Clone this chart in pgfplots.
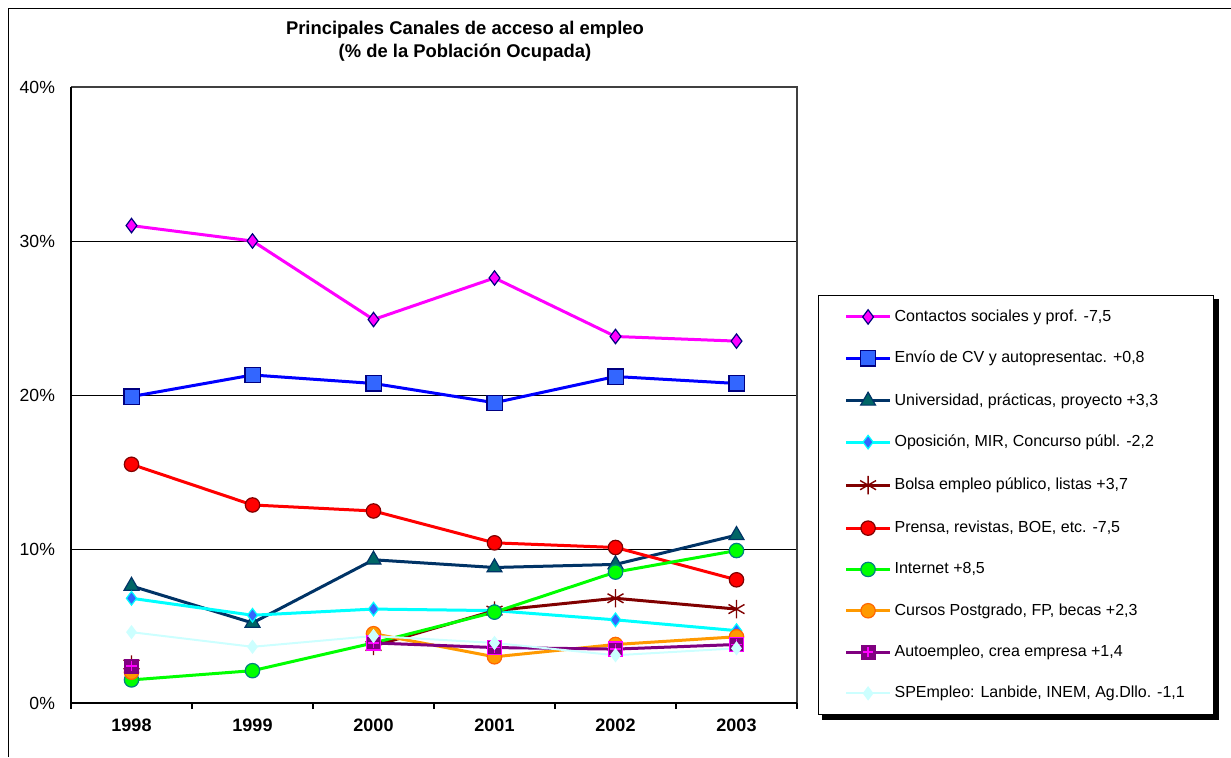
\documentclass[border=0pt]{standalone}
\usepackage{pgfplots}
\pgfplotsset{compat=1.18}
\usepackage{fontspec}
\setmainfont{Liberation Sans}
\usetikzlibrary{backgrounds}

\definecolor{cMag}{RGB}{255,0,255}
\definecolor{cNavy}{RGB}{0,0,128}
\definecolor{cBlue}{RGB}{0,0,255}
\definecolor{cSq}{RGB}{51,102,255}
\definecolor{cUni}{RGB}{0,51,102}
\definecolor{cTeal}{RGB}{0,102,102}
\definecolor{cCyan}{RGB}{0,255,255}
\definecolor{cBrown}{RGB}{128,0,0}
\definecolor{cRed}{RGB}{255,0,0}
\definecolor{cGreen}{RGB}{0,255,0}
\definecolor{cTeal2}{RGB}{0,128,128}
\definecolor{cOrange}{RGB}{255,153,0}
\definecolor{cOrangeD}{RGB}{255,102,0}
\definecolor{cPurple}{RGB}{128,0,128}
\definecolor{cLight}{RGB}{204,255,255}

\pgfdeclareplotmark{sqplus}{%
  \pgfpathrectangle{\pgfpoint{-\pgfplotmarksize}{-\pgfplotmarksize}}{\pgfpoint{2\pgfplotmarksize}{2\pgfplotmarksize}}%
  \pgfusepathqfillstroke
  \pgfsetstrokecolor{cMag}\pgfsetlinewidth{0.7pt}%
  \pgfpathmoveto{\pgfpoint{-0.75\pgfplotmarksize}{0pt}}\pgfpathlineto{\pgfpoint{0.75\pgfplotmarksize}{0pt}}%
  \pgfpathmoveto{\pgfpoint{0pt}{-0.75\pgfplotmarksize}}\pgfpathlineto{\pgfpoint{0pt}{0.75\pgfplotmarksize}}%
  \pgfusepathqstroke
}

\begin{document}
\begin{tikzpicture}
\path[use as bounding box] (0,0) rectangle (615.5pt,378.5pt);
\draw[black, line width=0.8pt] (4.25pt,0pt) -- (4.25pt,374.25pt) -- (615.5pt,374.25pt);

\begin{axis}[
  at={(35.5pt,27pt)}, anchor=south west,
  scale only axis, width=363pt, height=308pt,
  xmin=-0.5, xmax=5.5, ymin=0, ymax=40,
  axis line style={draw=none},
  xtick={0,1,2,3,4,5},
  xticklabels={1998,1999,2000,2001,2002,2003},
  x tick label style={font=\fontsize{9}{10}\selectfont\bfseries, yshift=-4.5pt},
  ytick={0,10,20,30,40},
  yticklabels={0\%,10\%,20\%,30\%,40\%},
  y tick label style={font=\fontsize{8.8}{10}\selectfont, xshift=-4.5pt},
  major tick length=0pt,
  extra x ticks={-0.5,0.5,1.5,2.5,3.5,4.5,5.5},
  extra x tick labels={},
  extra x tick style={major tick length=3pt, tick align=outside, xtick pos=bottom, tick style={black, line width=0.6pt}, grid=none},
  ymajorgrids, grid style={black, line width=0.5pt},
  unbounded coords=jump,
  clip=false,
  legend style={name=leg, at={(rel axis cs:1.0289,0.6623)}, anchor=north west,
    draw=black, line width=0.6pt, fill=white,
    inner xsep=13pt, inner ysep=6.9pt,
    row sep=13.15pt,
    font=\fontsize{8}{9.5}\selectfont,
    nodes={inner xsep=1.5pt, inner ysep=0pt, text height=6pt, text depth=1.5pt}},
  legend cell align=left,
  legend image code/.code={\draw[mark repeat=2,mark phase=2] plot coordinates {(0pt,0pt) (11pt,0pt) (22pt,0pt)};},
]
\addplot[color=cMag, line width=1.5pt, mark=diamond*, mark size=3.6pt, mark options={solid, fill=cMag, draw=cNavy, line width=0.6pt}]
  coordinates {(0,31.0) (1,30.0) (2,24.9) (3,27.6) (4,23.8) (5,23.5)};
\addlegendentry{Contactos sociales y prof. -7,5}
\addplot[color=cBlue, line width=1.5pt, mark=square*, mark size=3.8pt, mark options={solid, fill=cSq, draw=cNavy, line width=0.6pt}]
  coordinates {(0,19.9) (1,21.3) (2,20.75) (3,19.5) (4,21.2) (5,20.75)};
\addlegendentry{Envío de CV y autopresentac. +0,8}
\addplot[color=cUni, line width=1.5pt, mark=triangle*, mark size=4.3pt, mark options={solid, fill=cTeal, draw=cUni, line width=0.6pt}]
  coordinates {(0,7.6) (1,5.2) (2,9.3) (3,8.8) (4,9.0) (5,10.9)};
\addlegendentry{Universidad, prácticas, proyecto +3,3}
\addplot[color=cCyan, line width=1.5pt, mark=diamond*, mark size=3.4pt, mark options={solid, fill=cSq, draw=cCyan, line width=0.6pt}]
  coordinates {(0,6.8) (1,5.7) (2,6.1) (3,6.0) (4,5.4) (5,4.7)};
\addlegendentry{Oposición, MIR, Concurso públ. -2,2}
\addplot[color=cBrown, line width=1.5pt, mark=asterisk, mark size=4.6pt, mark options={solid, draw=cBrown, line width=0.7pt}]
  coordinates {(0,2.5) (1,nan) (2,3.7) (3,6.0) (4,6.8) (5,6.1)};
\addlegendentry{Bolsa empleo público, listas +3,7}
\addplot[color=cRed, line width=1.5pt, mark=*, mark size=3.6pt, mark options={solid, fill=cRed, draw=cBrown, line width=0.6pt}]
  coordinates {(0,15.5) (1,12.86) (2,12.47) (3,10.4) (4,10.1) (5,8.0)};
\addlegendentry{Prensa, revistas, BOE, etc. -7,5}
\addplot[color=cGreen, line width=1.5pt, mark=*, mark size=3.6pt, mark options={solid, fill=cGreen, draw=cTeal2, line width=0.6pt}]
  coordinates {(0,1.5) (1,2.1) (2,3.9) (3,5.9) (4,8.5) (5,9.9)};
\addlegendentry{Internet +8,5}
\addplot[color=cOrange, line width=1.5pt, mark=*, mark size=3.6pt, mark options={solid, fill=cOrange, draw=cOrangeD, line width=0.6pt}]
  coordinates {(0,2.0) (1,nan) (2,4.5) (3,3.0) (4,3.8) (5,4.3)};
\addlegendentry{Cursos Postgrado, FP, becas +2,3}
\addplot[color=cPurple, line width=1.5pt, mark=sqplus, mark size=3.5pt, mark options={solid, fill=cPurple, draw=cPurple, line width=0.5pt}]
  coordinates {(0,2.4) (1,nan) (2,3.9) (3,3.6) (4,3.5) (5,3.8)};
\addlegendentry{Autoempleo, crea empresa +1,4}
\addplot[color=cLight, line width=1pt, mark=diamond*, mark size=3.2pt, mark options={solid, fill=cLight, draw=cLight, line width=0.5pt}]
  coordinates {(0,4.6) (1,3.65) (2,4.35) (3,3.9) (4,3.1) (5,3.55)};
\addlegendentry{SPEmpleo: Lanbide, INEM, Ag.Dllo. -1,1}

\draw[black!75, line width=0.6pt] (rel axis cs:0,1) -- (rel axis cs:1,1) -- (rel axis cs:1,0);
\draw[black, line width=1pt] (rel axis cs:0,1) -- (rel axis cs:0,0) -- (rel axis cs:1,0);
\end{axis}

\begin{scope}[on background layer]
\fill[black] ([xshift=2.2pt,yshift=-2.2pt]leg.south west) rectangle ([xshift=2.2pt,yshift=-2.2pt]leg.north east);
\end{scope}

\node[align=center, font=\fontsize{9.2}{11.5}\selectfont\bfseries] at (232.5pt,357.8pt)
  {Principales Canales de acceso al empleo\\(\% de la Población Ocupada)};
\end{tikzpicture}
\end{document}
